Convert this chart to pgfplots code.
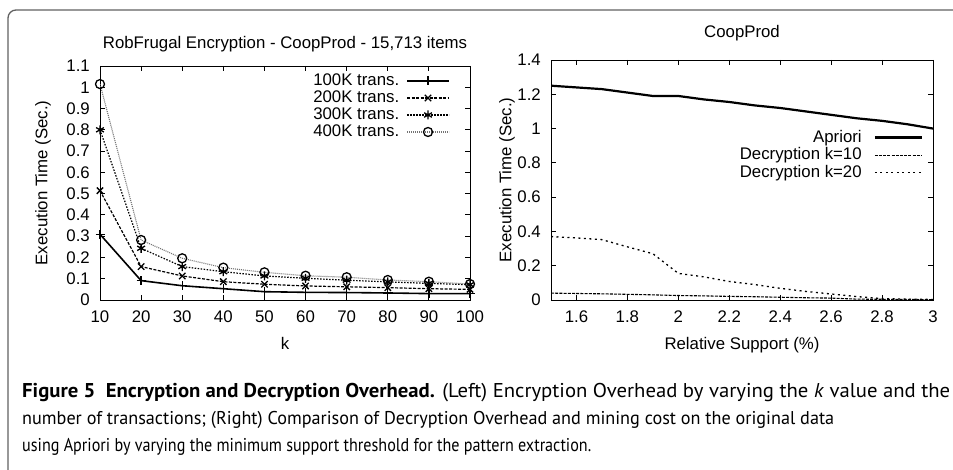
\documentclass[border=0pt]{standalone}
\usepackage{pgfplots}
\pgfplotsset{compat=1.18}
\usepackage{fontspec}
\usepackage{graphicx}
\setmainfont{Liberation Sans}
\newfontfamily\plotfont{Liberation Sans}
\newfontfamily\capfont[FakeStretch=0.9]{PT Sans}
\newcommand\pf{\plotfont\fontsize{16.8bp}{19bp}\selectfont}
\newcommand\cf{\capfont\fontsize{18.5bp}{22bp}\selectfont}

\pgfplotsset{
  gp/.style={
    scale only axis,
    /pgf/number format/assume math mode=true,
    tick label style={font=\pf, inner sep=0pt},
    label style={font=\pf},
    title style={font=\pf},
    axis line style={line width=0.9bp},
    tick style={black, line width=0.9bp},
    major tick length=5bp,
    yticklabel style={xshift=-10bp},
    xticklabel style={yshift=-11bp},
    legend plot pos=right,
    legend cell align=right,
  }
}

\begin{document}
\begin{tikzpicture}[x=1bp,y=1bp]

% ---------------- Left plot ----------------
\begin{axis}[gp,
  at={(100bp,170bp)}, anchor=south west, width=370bp, height=234bp,
  xmin=10, xmax=100, ymin=0, ymax=1.1,
  xtick={10,20,30,40,50,60,70,80,90,100},
  ytick={0,0.1,0.2,0.3,0.4,0.5,0.6,0.7,0.8,0.9,1,1.1},
  title={RobFrugal Encryption - CoopProd - 15,713 items},
  title style={at={(axis description cs:0.5,1.068)}, anchor=center},
  xlabel={k}, xlabel style={at={(axis description cs:0.5,-0.184)}, anchor=center},
  ylabel={Execution Time (Sec.)}, ylabel style={at={(axis description cs:-0.154,0.5)}, anchor=center},
  legend image code/.code={\draw[mark repeat=2,mark phase=2,#1] plot coordinates {(0bp,0bp) (21bp,0bp) (42bp,0bp)};},
  legend style={at={(axis description cs:0.946,0.972)}, anchor=north east, draw=none, fill=none,
    font=\pf, inner sep=0pt, row sep=0.5bp, column sep=6bp,
    nodes={inner sep=1bp, text height=12bp, text depth=2.5bp}},
  mark size=4.5bp,
]
\addplot[black, line width=1.6bp, mark=+, mark options={solid, line width=1.3bp}] coordinates {
 (10,0.309) (20,0.091) (30,0.067) (40,0.053) (50,0.039) (60,0.036) (70,0.035) (80,0.033) (90,0.030) (100,0.030)};
\addlegendentry{100K trans.}
\addplot[black, line width=1.2bp, dash pattern=on 3bp off 1.5bp, mark=x, mark options={solid, line width=1.3bp}] coordinates {
 (10,0.514) (20,0.157) (30,0.113) (40,0.086) (50,0.074) (60,0.066) (70,0.062) (80,0.058) (90,0.053) (100,0.050)};
\addlegendentry{200K trans.}
\addplot[black, line width=1.2bp, dash pattern=on 1.5bp off 1.5bp, mark=asterisk, mark options={solid, line width=1.3bp}] coordinates {
 (10,0.800) (20,0.243) (30,0.157) (40,0.133) (50,0.113) (60,0.102) (70,0.093) (80,0.085) (90,0.078) (100,0.072)};
\addlegendentry{300K trans.}
\addplot[black!55, line width=1.1bp, dash pattern=on 1bp off 1bp, mark=o, mark options={solid, black, line width=1.3bp}] coordinates {
 (10,1.015) (20,0.282) (30,0.196) (40,0.152) (50,0.130) (60,0.114) (70,0.107) (80,0.094) (90,0.086) (100,0.075)};
\addlegendentry{400K trans.}
\end{axis}

% ---------------- Right plot ----------------
\begin{axis}[gp,
  at={(551bp,170bp)}, anchor=south west, width=382bp, height=240bp,
  xmin=1.5, xmax=3, ymin=0, ymax=1.4,
  xtick={1.6,1.8,2,2.2,2.4,2.6,2.8,3},
  ytick={0,0.2,0.4,0.6,0.8,1,1.2,1.4},
  title={CoopProd},
  title style={at={(axis description cs:0.5,1.0875)}, anchor=center},
  xlabel={Relative Support (\%)}, xlabel style={at={(axis description cs:0.5,-0.1875)}, anchor=center},
  ylabel={Execution Time (Sec.)}, ylabel style={at={(axis description cs:-0.115,0.5)}, anchor=center},
  legend image code/.code={\draw[#1] (0bp,0bp) -- (47bp,0bp);},
  legend style={at={(axis description cs:0.974,0.712)}, anchor=north east, draw=none, fill=none,
    font=\pf, inner sep=0pt, row sep=1bp, column sep=11bp,
    nodes={inner sep=1bp, text height=12bp, text depth=2.5bp}},
]
\addplot[black, line width=2.2bp] coordinates {
 (1.5,1.25) (1.6,1.24) (1.7,1.23) (1.8,1.21) (1.9,1.19) (2.0,1.19) (2.1,1.17) (2.2,1.155)
 (2.3,1.135) (2.4,1.12) (2.5,1.10) (2.6,1.08) (2.7,1.06) (2.8,1.045) (2.9,1.025) (3.0,1.0)};
\addlegendentry{Apriori}
\addplot[black, line width=1.1bp, dash pattern=on 3bp off 1.2bp] coordinates {
 (1.5,0.040) (1.6,0.038) (1.7,0.036) (1.8,0.033) (1.9,0.030) (2.0,0.026) (2.1,0.024) (2.2,0.021)
 (2.3,0.019) (2.4,0.016) (2.5,0.013) (2.6,0.011) (2.7,0.005) (2.8,0.004) (2.9,0.003) (3.0,0.002)};
\addlegendentry{Decryption k=10}
\addplot[black, line width=1.3bp, dash pattern=on 2bp off 3.5bp] coordinates {
 (1.5,0.370) (1.6,0.362) (1.7,0.352) (1.8,0.310) (1.9,0.270) (2.0,0.155) (2.1,0.135) (2.2,0.108)
 (2.3,0.090) (2.4,0.068) (2.5,0.050) (2.6,0.035) (2.7,0.020) (2.8,0.008) (2.9,0.005) (3.0,0.003)};
\addlegendentry{Decryption k=20}
\end{axis}

% ---------------- Frame and caption ----------------
\draw[black!62, line width=1.3bp] (8,-5) -- (8,452) arc[start angle=180, end angle=90, radius=8] -- (960,460);

\node[anchor=base west, inner sep=0pt] at (22,72) {\resizebox{928bp}{1.08\height}{\cf\textbf{Figure 5\ \ Encryption and Decryption Overhead.} (Left) Encryption Overhead by varying the \textit{k} value and the}};
\node[anchor=base west, inner sep=0pt] at (22,45) {\resizebox{812bp}{\height}{\cf number of transactions; (Right) Comparison of Decryption Overhead and mining cost on the original data}};
\node[anchor=base west, inner sep=0pt] at (22,18) {\resizebox{569bp}{\height}{\cf using Apriori by varying the minimum support threshold for the pattern extraction.}};

\pgfresetboundingbox
\path[use as bounding box] (0,0) rectangle (953,470);
\end{tikzpicture}
\end{document}
